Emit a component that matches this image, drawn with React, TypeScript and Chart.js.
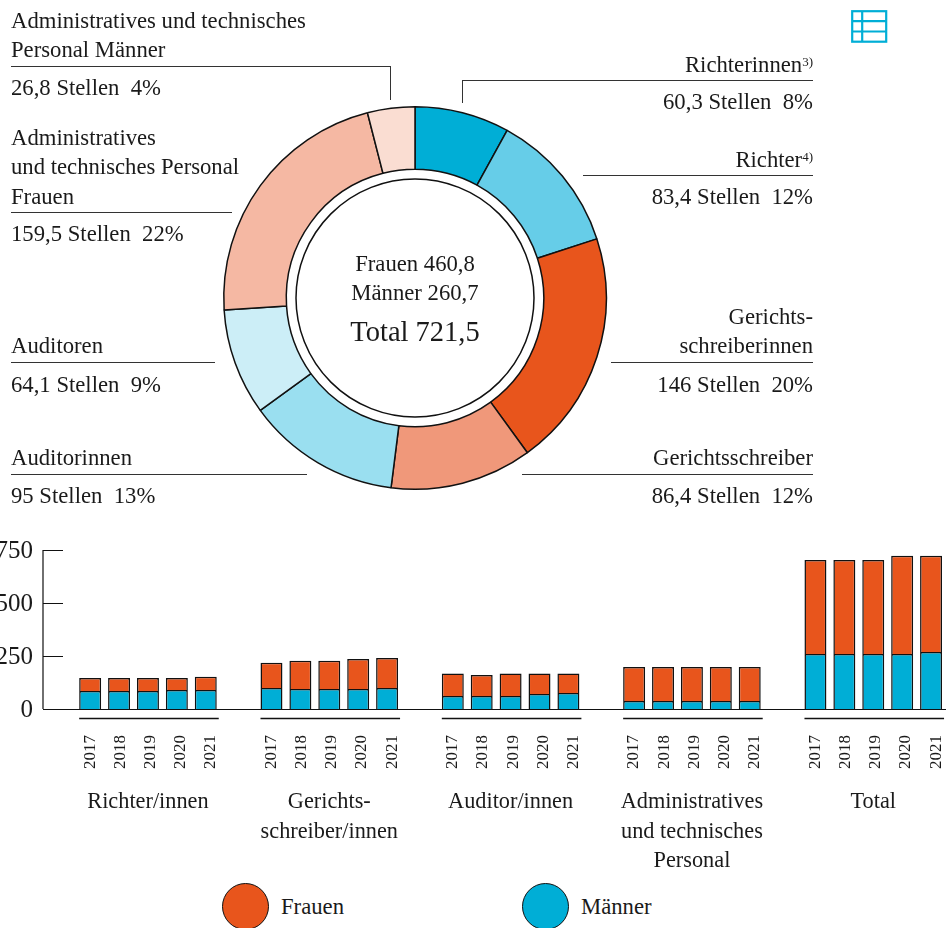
import React, { useEffect, useRef } from "react";
import { Chart, registerables } from "chart.js";

Chart.register(...registerables);

const FONT = '"Liberation Serif", "Times New Roman", serif';
const INK = "#1a1a1a";
const ORANGE = "#E8551C";
const BLUE = "#00AED6";
const TEXT_SIZE = 22.7;

const sliceLabels = ["Richterinnen", "Richter", "Gerichtsschreiberinnen", "Gerichtsschreiber", "Auditorinnen", "Auditoren", "Administratives und technisches Personal Frauen", "Administratives und technisches Personal Männer"];
const slicePercents = [8, 12, 20, 12, 13, 9, 22, 4];
const sliceColors = ["#00AED6", "#66CDE8", "#E8551C", "#F0987A", "#9ADFF0", "#CCEEF7", "#F5B8A3", "#FADDD2"];

const groupLabels = [["Richter/innen"], ["Gerichts-", "schreiber/innen"], ["Auditor/innen"], ["Administratives", "und technisches", "Personal"], ["Total"]];
const years = ["2017", "2018", "2019", "2020", "2021"];
const menByYear = [
  [85, 99, 61, 38, 259],
  [85, 94, 61, 38, 259],
  [85, 94, 61, 38, 259],
  [90, 94, 71, 38, 259],
  [90, 99, 75, 38, 269],
];
const womenByYear = [
  [61, 119, 106, 160, 444],
  [61, 134, 99, 160, 444],
  [61, 134, 106, 160, 444],
  [56, 142, 96, 160, 464],
  [62, 141, 92, 160, 454],
];
const yTicks = [0, 250, 500, 750];

const yearLabelsPlugin = {
  id: "barExtras",
  afterDatasetsDraw(chart: any) {
    const { ctx, scales } = chart;
    const y = scales.y;
    const x = scales.x;
    ctx.save();
    ctx.strokeStyle = "#111";
    ctx.lineWidth = 1.2;
    ctx.beginPath();
    ctx.moveTo(43, y.getPixelForValue(750));
    ctx.lineTo(43, y.getPixelForValue(0));
    yTicks.forEach((t) => {
      const p = Math.round(y.getPixelForValue(t)) + 0.5;
      ctx.moveTo(43, p);
      ctx.lineTo(t === 0 ? 946 : 63, p);
    });
    ctx.stroke();
    ctx.fillStyle = INK;
    ctx.textBaseline = "middle";
    ctx.textAlign = "right";
    ctx.font = `25px ${FONT}`;
    yTicks.forEach((t) => {
      ctx.fillText(String(t), 33, y.getPixelForValue(t) + 1.5);
    });
    ctx.font = `17px ${FONT}`;
    ctx.textAlign = "center";
    groupLabels.forEach((_, g) => {
      const first = chart.getDatasetMeta(0).data[g];
      const last = chart.getDatasetMeta(8).data[g];
      ctx.lineWidth = 1.5;
      ctx.beginPath();
      ctx.moveTo(first.x - first.width / 2, 718.5);
      ctx.lineTo(last.x + last.width / 2 + 2, 718.5);
      ctx.stroke();
      const center = x.getPixelForTick(g);
      years.forEach((yr, i) => {
        ctx.save();
        ctx.translate(center + 2.5 + (i - 2) * 30.2, 752);
        ctx.rotate(-Math.PI / 2);
        ctx.fillText(yr, 0, 0);
        ctx.restore();
      });
    });
    ctx.restore();
  },
};

const centerPlugin = {
  id: "center",
  afterDatasetsDraw(chart: any) {
    const arc = chart.getDatasetMeta(0).data[0];
    const { ctx } = chart;
    ctx.save();
    ctx.beginPath();
    ctx.arc(arc.x, arc.y, 119, 0, Math.PI * 2);
    ctx.strokeStyle = "#111";
    ctx.lineWidth = 1.5;
    ctx.stroke();
    ctx.fillStyle = INK;
    ctx.textAlign = "center";
    ctx.textBaseline = "middle";
    ctx.font = `${TEXT_SIZE}px ${FONT}`;
    ctx.fillText("Frauen 460,8", arc.x, arc.y - 33);
    ctx.fillText("Männer 260,7", arc.x, arc.y - 4);
    ctx.font = `28.5px ${FONT}`;
    ctx.fillText("Total 721,5", arc.x, arc.y + 36);
    ctx.restore();
  },
};

type Lab = { lines: string[]; sup?: string; value: string; side: "l" | "r"; top: number; rule: number; x1: number; x2: number; drop?: [number, number]; vy: number };

const annotations: Lab[] = [
  { lines: ["Administratives und technisches", "Personal Männer"], value: "26,8 Stellen  4%", side: "l", top: 21, rule: 66, x1: 11, x2: 390, drop: [390, 100], vy: 88 },
  { lines: ["Administratives", "und technisches Personal", "Frauen"], value: "159,5 Stellen  22%", side: "l", top: 138, rule: 212, x1: 11, x2: 232, vy: 234 },
  { lines: ["Auditoren"], value: "64,1 Stellen  9%", side: "l", top: 346, rule: 362, x1: 11, x2: 215, vy: 385 },
  { lines: ["Auditorinnen"], value: "95 Stellen  13%", side: "l", top: 458, rule: 474, x1: 11, x2: 307, vy: 496 },
  { lines: ["Richterinnen"], sup: "3)", value: "60,3 Stellen  8%", side: "r", top: 65, rule: 80, x1: 462, x2: 813, drop: [462, 103], vy: 102 },
  { lines: ["Richter"], sup: "4)", value: "83,4 Stellen  12%", side: "r", top: 160, rule: 175, x1: 583, x2: 813, vy: 197 },
  { lines: ["Gerichts-", "schreiberinnen"], value: "146 Stellen  20%", side: "r", top: 317, rule: 362, x1: 611, x2: 813, vy: 385 },
  { lines: ["Gerichtsschreiber"], value: "86,4 Stellen  12%", side: "r", top: 458, rule: 474, x1: 522, x2: 813, vy: 496 },
];

const textStyle = (y: number, side: "l" | "r"): React.CSSProperties => ({
  position: "absolute",
  top: y - 15,
  height: 30,
  lineHeight: "30px",
  fontSize: TEXT_SIZE,
  whiteSpace: "pre",
  color: INK,
  ...(side === "l" ? { left: 11 } : { right: 946 - 813 }),
});

export default function App() {
  const donutRef = useRef<HTMLCanvasElement>(null);
  const barRef = useRef<HTMLCanvasElement>(null);

  useEffect(() => {
    document.body.style.margin = "0";
    const donut = new Chart(donutRef.current!, {
      type: "doughnut",
      data: {
        labels: sliceLabels,
        datasets: [{ data: slicePercents, backgroundColor: sliceColors, borderColor: "#111", borderWidth: 1.5, borderAlign: "center" as any }],
      },
      options: {
        animation: false,
        responsive: false,
        cutout: "67.3%",
        layout: { padding: 8 },
        plugins: { legend: { display: false }, tooltip: { enabled: false } },
      },
      plugins: [centerPlugin],
    });

    const datasets: any[] = [];
    years.forEach((yr, i) => {
      datasets.push({ label: `Männer ${yr}`, stack: yr, data: menByYear[i], backgroundColor: BLUE, borderColor: "#111", borderWidth: 1.5 });
      datasets.push({ label: `Frauen ${yr}`, stack: yr, data: womenByYear[i], backgroundColor: ORANGE, borderColor: "#111", borderWidth: 1.5 });
    });
    const bars = new Chart(barRef.current!, {
      type: "bar",
      data: { labels: groupLabels as any, datasets },
      options: {
        animation: false,
        responsive: false,
        layout: { padding: { top: 550 } },
        categoryPercentage: 0.797,
        barPercentage: 0.76,
        plugins: { legend: { display: false }, tooltip: { enabled: false } },
        scales: {
          x: {
            stacked: true,
            position: "bottom",
            grid: { display: false, drawTicks: false },
            border: { display: false },
            afterFit(s: any) { s.height = 172; },
            ticks: { autoSkip: false, maxRotation: 0, minRotation: 0, padding: 79, color: INK, font: { family: FONT, size: 22.3, lineHeight: 1.31 } },
          },
          y: {
            stacked: true,
            min: 0,
            max: 750,
            grid: { display: false, drawTicks: false },
            border: { display: false },
            afterFit(s: any) { s.width = 57.3; },
            afterBuildTicks(s: any) { s.ticks = yTicks.map((value) => ({ value })); },
            ticks: { display: false },
          },
        },
      } as any,
      plugins: [yearLabelsPlugin],
    });
    return () => {
      donut.destroy();
      bars.destroy();
    };
  }, []);

  return (
    <div style={{ position: "relative", width: 946, height: 928, overflow: "hidden", fontFamily: FONT, background: "#fff" }}>
      <canvas ref={barRef} width={975} height={881} style={{ position: "absolute", left: 0, top: 0, width: 975, height: 881 }} />
      <canvas ref={donutRef} width={400} height={400} style={{ position: "absolute", left: 215, top: 98, width: 400, height: 400 }} />
      {annotations.map((a, i) => (
        <React.Fragment key={i}>
          {a.lines.map((l, j) => (
            <div key={j} style={textStyle(a.top + j * 29.3, a.side)}>
              {l}
              {a.sup ? <span style={{ fontSize: 13, verticalAlign: 6, lineHeight: 0 }}>{a.sup}</span> : null}
            </div>
          ))}
          <div style={{ position: "absolute", left: a.x1, width: a.x2 - a.x1, top: a.rule, height: 1, background: "#333" }} />
          {a.drop ? <div style={{ position: "absolute", left: a.drop[0], width: 1, top: a.rule, height: a.drop[1] - a.rule, background: "#333" }} /> : null}
          <div style={textStyle(a.vy, a.side)}>{a.value}</div>
        </React.Fragment>
      ))}
      <svg width={37} height={33} style={{ position: "absolute", left: 851, top: 10 }} fill="none" stroke={BLUE} strokeWidth={2.2}>
        <rect x={1.2} y={1.2} width={34} height={30.5} />
        <path d="M1 11.2H35M1 21.5H35M11.2 1V32" />
      </svg>
      <div style={{ position: "absolute", left: 222, top: 883, width: 47, height: 47, borderRadius: "50%", background: ORANGE, border: "1.5px solid #111", boxSizing: "border-box" }} />
      <div style={{ position: "absolute", left: 281, top: 892, lineHeight: "30px", fontSize: TEXT_SIZE, color: INK }}>Frauen</div>
      <div style={{ position: "absolute", left: 522, top: 883, width: 47, height: 47, borderRadius: "50%", background: BLUE, border: "1.5px solid #111", boxSizing: "border-box" }} />
      <div style={{ position: "absolute", left: 581, top: 892, lineHeight: "30px", fontSize: TEXT_SIZE, color: INK }}>Männer</div>
    </div>
  );
}
